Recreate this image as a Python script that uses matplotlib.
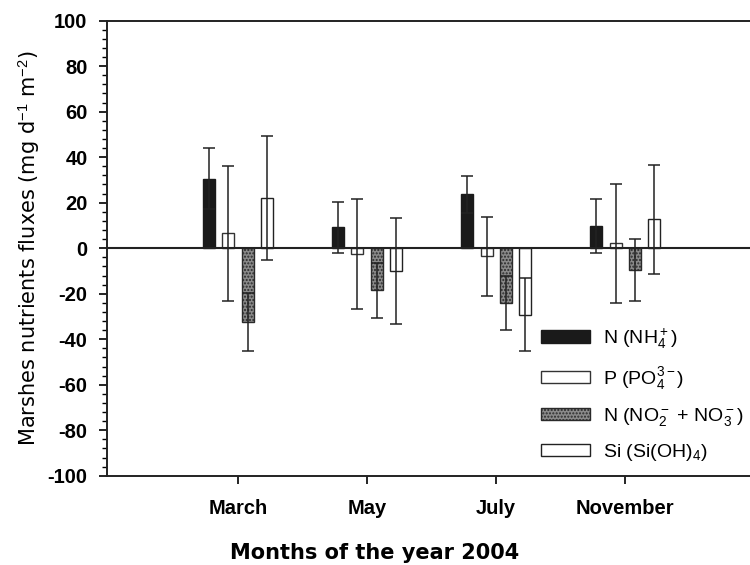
import matplotlib
matplotlib.use("Agg")
import matplotlib.pyplot as plt
import numpy as np
from matplotlib.ticker import MultipleLocator

plt.rcParams['font.family'] = ['Liberation Sans', 'DejaVu Sans']
plt.rcParams['mathtext.fontset'] = 'custom'
plt.rcParams['mathtext.rm'] = 'Liberation Sans'
plt.rcParams['mathtext.it'] = 'Liberation Sans'
plt.rcParams['mathtext.bf'] = 'Liberation Sans:bold'
plt.rcParams['hatch.linewidth'] = 1.0
plt.rcParams['axes.unicode_minus'] = False

months = ["March", "May", "July", "November"]
series = [r"N (NH$_4^+$)", r"P (PO$_4^{3-}$)", r"N (NO$_2^-$ + NO$_3^-$)", r"Si (Si(OH)$_4$)"]
nh4 = [30.6, 9.1, 23.7, 9.7]
nh4_err = [13.4, 11.1, 8.1, 11.8]
po4 = [6.5, -2.6, -3.6, 2.2]
po4_err = [29.7, 24.3, 17.4, 26.2]
nox = [-32.4, -18.5, -24.2, -9.7]
nox_err = [12.9, 12.0, 11.8, 13.7]
si = [22.0, -10.0, -29.3, 12.7]
si_err = [27.2, 23.3, 16.0, 23.9]

values = [nh4, po4, nox, si]
errors = [nh4_err, po4_err, nox_err, si_err]
styles = [
    dict(facecolor='#1a1a1a', edgecolor='#1a1a1a', hatch=None),
    dict(facecolor='white', edgecolor='#333333', hatch=None),
    dict(facecolor='#8a8a8a', edgecolor='#2a2a2a', hatch='.....'),
    dict(facecolor='white', edgecolor='#222222', hatch=None),
]

fig = plt.figure(figsize=(7.5, 5.65), dpi=100)
ax = fig.add_axes([0.1427, 0.158, 0.858, 0.8054])

x = np.arange(1, len(months) + 1)
width = 0.093
step = 0.15
for i, (vals, errs, st) in enumerate(zip(values, errors, styles)):
    pos = x + (i - 1.5) * step
    ax.bar(pos, vals, width, label=series[i], facecolor=st['facecolor'],
           edgecolor=st['edgecolor'], hatch=st['hatch'], linewidth=1.0, zorder=2)
    ax.errorbar(pos, vals, yerr=errs, fmt='none', ecolor='#222222',
                elinewidth=1.1, capsize=4.3, capthick=1.1, zorder=3)

ax.axhline(0, color='#222222', lw=1.5, zorder=4)
ax.set_xlim(-0.015, 4.97)
ax.set_ylim(-100, 100)
ax.set_xticks(x)
ax.set_xticklabels(months, fontsize=14.5, fontweight='bold')
ax.yaxis.set_major_locator(MultipleLocator(20))
ax.yaxis.set_minor_locator(MultipleLocator(4))
for lab in ax.get_yticklabels():
    lab.set_fontweight('bold')
    lab.set_fontsize(14.5)
ax.tick_params(axis='y', which='major', direction='out', length=6, width=1.2, pad=8)
ax.tick_params(axis='y', which='minor', direction='out', length=3.5, width=1.0)
ax.tick_params(axis='x', which='major', direction='out', length=6, width=1.2, pad=11)
ax.spines['right'].set_visible(False)
for s in ['left', 'bottom', 'top']:
    ax.spines[s].set_linewidth(1.4)
    ax.spines[s].set_color('#222222')

ax.set_ylabel(r"Marshes nutrients fluxes (mg d$^{-1}$ m$^{-2}$)", fontsize=15,
              family=['DejaVu Sans'], labelpad=4)
fig.text(0.5, 0.022, "Months of the year 2004", ha='center', va='center',
         fontsize=15, fontweight='bold', family=['DejaVu Sans'])

leg = ax.legend(loc='upper left', bbox_to_anchor=(0.663, 0.345), frameon=False,
                prop={'size': 14}, handlelength=2.5, handleheight=0.6, labelspacing=0.72,
                handletextpad=0.65, borderaxespad=0)

fig.savefig("out.png", dpi=100)
